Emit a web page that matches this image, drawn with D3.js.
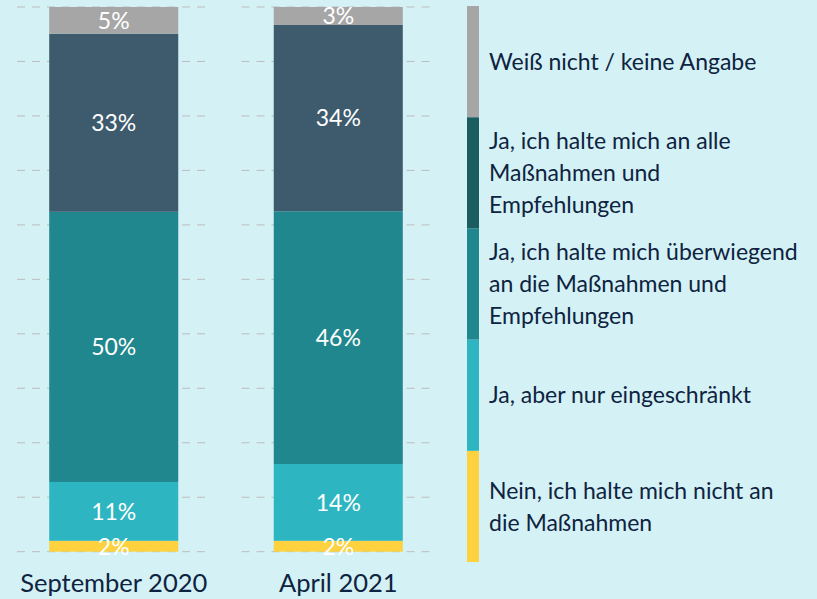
<!DOCTYPE html>
<html>
<head>
<meta charset="utf-8">
<script src="https://cdn.jsdelivr.net/npm/d3@7"></script>
<style>
  body { margin: 0; background: #d4f1f5; }
  svg { display: block; }
</style>
</head>
<body>
<svg id="chart"></svg>
<script>
// categories and series (percent)
const categories = ["September 2020", "April 2021"];
const nein = [2.0, 2.0];
const eingeschraenkt = [10.8, 14.1];
const ueberwiegend = [49.6, 46.4];
const alle = [32.7, 34.2];
const weissNicht = [4.9, 3.3];

const seriesKeys = ["nein", "eingeschraenkt", "ueberwiegend", "alle", "weissNicht"];
const legendLabels = [
    ["Nein, ich halte mich nicht an", "die Maßnahmen"],
    ["Ja, aber nur eingeschränkt"],
    ["Ja, ich halte mich überwiegend", "an die Maßnahmen und", "Empfehlungen"],
    ["Ja, ich halte mich an alle", "Maßnahmen und", "Empfehlungen"],
    ["Weiß nicht / keine Angabe"]
];
const yTicks = [0, 10, 20, 30, 40, 50, 60, 70, 80, 90, 100];

const barColors = ["#fdd23e", "#2db6c1", "#21878e", "#3e5b6d", "#a6a6a6"];
const legendColors = ["#fdd23e", "#2db6c1", "#21878e", "#1b5c60", "#a6a6a6"];

width = 817
height = 599
font = "Lato, 'Noto Sans', sans-serif"

svg = d3.select("#chart")
    .attr("width", width)
    .attr("height", height)
    .style("background", "#d4f1f5")

// build table for the stack
table = categories.map((c, i) => ({
    cat: c,
    nein: nein[i],
    eingeschraenkt: eingeschraenkt[i],
    ueberwiegend: ueberwiegend[i],
    alle: alle[i],
    weissNicht: weissNicht[i]
}))
stacked = d3.stack().keys(seriesKeys)(table)

xScale = d3.scaleBand()
    .domain(categories)
    .range([17, 435])
    .paddingInner(31 / 224)
    .paddingOuter(0)

yScale = d3.scaleLinear()
    .domain([0, 100])
    .range([551.7, 7])

barWidth = xScale.bandwidth() * 0.667
barInset = (xScale.bandwidth() - barWidth) / 2

// dashed gridlines, one piece per band
grid = svg.append("g")
categories.forEach(c => {
    grid.selectAll(null)
        .data(yTicks)
        .join("line")
        .attr("x1", xScale(c))
        .attr("x2", xScale(c) + xScale.bandwidth())
        .attr("y1", d => yScale(d))
        .attr("y2", d => yScale(d))
        .attr("stroke", "#bdbdbd")
        .attr("stroke-width", 1)
        .attr("stroke-dasharray", "8,7")
})

// stacked bars
layers = svg.append("g").selectAll("g")
    .data(stacked)
    .join("g")
    .attr("fill", (d, i) => barColors[i])

layers.selectAll("rect")
    .data(d => d)
    .join("rect")
    .attr("x", d => xScale(d.data.cat) + barInset)
    .attr("width", barWidth)
    .attr("y", d => yScale(d[1]))
    .attr("height", d => yScale(d[0]) - yScale(d[1]))

// value labels
labels = svg.append("g").selectAll("g")
    .data(stacked)
    .join("g")

labels.selectAll("text")
    .data(d => d)
    .join("text")
    .attr("x", d => xScale(d.data.cat) + xScale.bandwidth() / 2)
    .attr("y", d => (yScale(d[0]) + yScale(d[1])) / 2)
    .attr("dy", "0.36em")
    .attr("text-anchor", "middle")
    .attr("fill", "white")
    .attr("font-family", font)
    .attr("font-size", 23)
    .text(d => Math.round(d[1] - d[0]) + "%")

// x axis (category names)
xAxis = svg.append("g")
    .attr("transform", "translate(0," + yScale(0) + ")")
    .call(d3.axisBottom(xScale).tickSize(0).tickPadding(22))
xAxis.select(".domain").remove()
xAxis.selectAll("text")
    .attr("fill", "#0e2340")
    .attr("font-family", font)
    .attr("font-size", 25.5)

// legend: vertical colour strip with labels
legendScale = d3.scaleBand()
    .domain(seriesKeys.slice().reverse())
    .range([6, 562])

legend = svg.append("g")
legend.selectAll("rect")
    .data(seriesKeys)
    .join("rect")
    .attr("x", 467)
    .attr("width", 12)
    .attr("y", d => legendScale(d))
    .attr("height", legendScale.bandwidth())
    .attr("fill", (d, i) => legendColors[i])

lineHeight = 32
legendText = legend.selectAll("text")
    .data(seriesKeys)
    .join("text")
    .attr("font-family", font)
    .attr("font-size", 23)
    .attr("fill", "#0e2340")

legendText.selectAll("tspan")
    .data((d, i) => legendLabels[i].map((l, j, arr) => ({
        text: l,
        y: legendScale(d) + legendScale.bandwidth() / 2 + (j - (arr.length - 1) / 2) * lineHeight
    })))
    .join("tspan")
    .attr("x", 489)
    .attr("y", t => t.y)
    .attr("dy", "0.36em")
    .text(t => t.text)
</script>
</body>
</html>
